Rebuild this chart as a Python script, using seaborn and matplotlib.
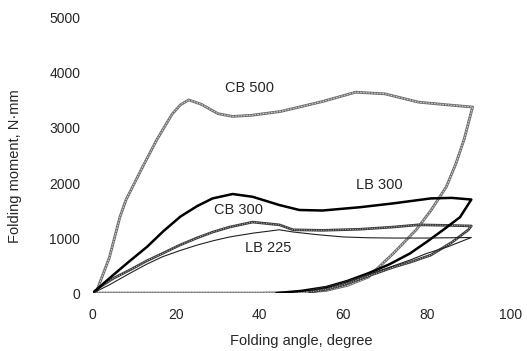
import numpy as np
import pandas as pd
import seaborn as sns
import matplotlib
matplotlib.use('Agg')
import matplotlib.pyplot as plt

# Folding loops: loading up to 90 deg then unloading
cb500_angle = [0, 1, 4, 6.5, 8, 12, 15.3, 19, 21, 23, 26, 30, 33.5, 38, 45, 55, 63, 70, 78, 85, 91,
               89, 87, 84.7, 81, 77.5, 72, 66, 61, 56, 50, 40, 30, 20, 10, 0]
cb500_moment = [0, 50, 650, 1380, 1700, 2300, 2780, 3250, 3420, 3510, 3430, 3260, 3210, 3230, 3300, 3480, 3650, 3620, 3470, 3420, 3380,
                2800, 2350, 1930, 1500, 1150, 720, 290, 140, 50, 10, 0, 0, 0, 0, 0]

lb300_angle = [0, 4, 8.5, 13, 17, 21, 25, 28.7, 33.5, 38.3, 44.7, 49.5, 55, 64, 72, 81, 86, 90.7,
               88, 84, 80, 76, 71, 66, 61, 56, 50, 44]
lb300_moment = [0, 270, 560, 840, 1130, 1390, 1580, 1720, 1800, 1750, 1600, 1510, 1500, 1560, 1630, 1720, 1730, 1700,
                1380, 1150, 930, 720, 520, 360, 220, 110, 40, 0]

cb300_angle = [0, 1.7, 5, 8.9, 12.8, 16.7, 20.8, 24.9, 28.8, 32.8, 38.3, 44.7, 48, 55, 64, 72, 78, 85, 90.7,
               90, 86, 81, 76, 72, 66, 60, 56, 52]
cb300_moment = [0, 110, 270, 420, 580, 720, 870, 1000, 1110, 1200, 1290, 1240, 1150, 1140, 1160, 1200, 1240, 1230, 1220,
                1150, 920, 690, 560, 470, 310, 150, 70, 20]

lb225_angle = [0, 4, 8.9, 12.8, 16.7, 20.8, 24.9, 28.8, 32.8, 38.5, 44.7, 48, 54, 60, 66, 72, 80, 90.7,
               85, 80, 76, 70, 64, 58, 52]
lb225_moment = [0, 150, 360, 520, 660, 770, 870, 950, 1020, 1090, 1150, 1110, 1060, 1020, 1005, 1000, 1000, 1010,
                840, 720, 600, 440, 290, 150, 55]

label_text = ['CB 500', 'LB 300', 'CB 300', 'LB 225']
label_x = [37.6, 68.7, 35, 42]
label_y = [3730, 1960, 1510, 820]

x_ticks = [0, 20, 40, 60, 80, 100]
y_ticks = [0, 1000, 2000, 3000, 4000, 5000]

sns.set_style('white')
plt.rcParams['font.family'] = ['Liberation Sans', 'DejaVu Sans']

fig, ax = plt.subplots(figsize=(5.27, 3.51), dpi=100)
fig.subplots_adjust(left=0.176, right=0.968, bottom=0.165, top=0.949)

def loop_df(angle, moment):
    return pd.DataFrame({'angle': angle, 'moment': moment})

# CB 500: light grey textured line (dark edge, lighter core)
cb500 = loop_df(cb500_angle, cb500_moment)
sns.lineplot(data=cb500, x='angle', y='moment', sort=False, estimator=None, ax=ax, color='#6a6a6a', linewidth=2.0)
sns.lineplot(data=cb500, x='angle', y='moment', sort=False, estimator=None, ax=ax, color='#d0d0d0', linewidth=0.8,
             linestyle=(0, (1.5, 1)))

# CB 300: darker textured line
cb300 = loop_df(cb300_angle, cb300_moment)
sns.lineplot(data=cb300, x='angle', y='moment', sort=False, estimator=None, ax=ax, color='#3a3a3a', linewidth=1.9)
sns.lineplot(data=cb300, x='angle', y='moment', sort=False, estimator=None, ax=ax, color='#bdbdbd', linewidth=0.7,
             linestyle=(0, (1, 1.5)))

# LB 300: black thick
sns.lineplot(data=loop_df(lb300_angle, lb300_moment), x='angle', y='moment', sort=False, estimator=None, ax=ax,
             color='black', linewidth=1.8)

# LB 225: thin
sns.lineplot(data=loop_df(lb225_angle, lb225_moment), x='angle', y='moment', sort=False, estimator=None, ax=ax,
             color='#222222', linewidth=0.8)

for t, lx, ly in zip(label_text, label_x, label_y):
    ax.text(lx, ly, t, ha='center', va='center', fontsize=10.5)

ax.set_xlim(0, 100)
ax.set_ylim(0, 5000)
ax.set_xticks(x_ticks)
ax.set_yticks(y_ticks)
ax.tick_params(axis='both', labelsize=10, length=0)
ax.tick_params(axis='x', pad=11)
ax.tick_params(axis='y', pad=9)
sns.despine(ax=ax, left=True, bottom=True)
ax.set_xlabel('Folding angle, degree', fontsize=10.5)
ax.set_ylabel('Folding moment, N·mm', fontsize=10.5)
ax.xaxis.set_label_coords(0.5, -0.150)
ax.yaxis.set_label_coords(-0.170, 0.462)

fig.savefig('out.png', dpi=100)
